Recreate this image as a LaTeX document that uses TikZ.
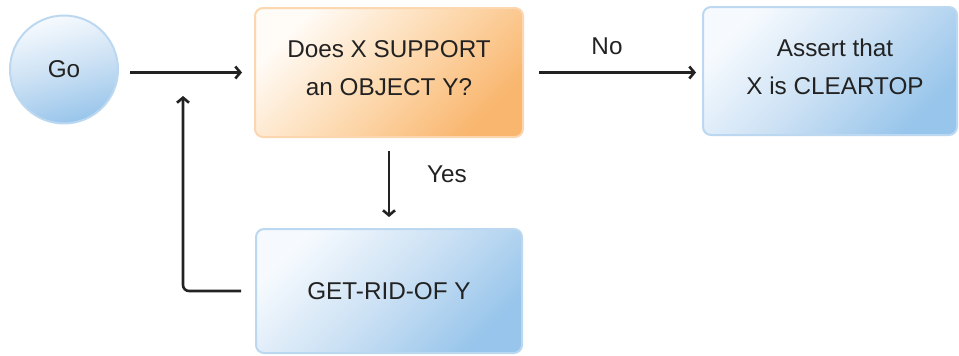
\documentclass[tikz,border=0pt]{standalone}
\usepackage{fontspec}
\setmainfont{Liberation Sans}
\usetikzlibrary{arrows.meta}
\definecolor{bluelight}{HTML}{F6FAFE}
\definecolor{bluemid}{HTML}{CCE1F4}
\definecolor{bluedark}{HTML}{98C5EB}
\definecolor{blueedge}{HTML}{BCD8F1}
\definecolor{orangelight}{HTML}{FFFBF6}
\definecolor{orangemid}{HTML}{FDDAB1}
\definecolor{orangedark}{HTML}{F9B66E}
\definecolor{orangeedge}{HTML}{FCD6AE}
\definecolor{ink}{HTML}{222222}
\tikzset{
  txt/.style={font=\fontsize{24.3}{38}\selectfont, text=ink, align=center},
  bluebox/.style={txt, rectangle, rounded corners=8pt, draw=blueedge, line width=2pt,
    top color=bluelight, bottom color=bluedark, middle color=bluemid, shading angle=45},
  orangebox/.style={txt, rectangle, rounded corners=8pt, draw=orangeedge, line width=2pt,
    top color=orangelight, bottom color=orangedark, middle color=orangemid, shading angle=45},
  startnode/.style={txt, circle, draw=blueedge, line width=2pt,
    top color=bluelight, bottom color=bluedark, middle color=bluemid, shading angle=15,
    minimum size=108pt, inner sep=0pt},
  arr/.style={draw=ink, line width=2.6pt, -{Straight Barb[length=5pt,width=12pt,line width=2.6pt]}},
  lbl/.style={txt}
}
\begin{document}
\begin{tikzpicture}[x=1pt,y=-1pt]
\useasboundingbox (0,0) rectangle (959,356);

% nodes
\node[startnode] (go) at (64,69.5) {Go};
\node[orangebox, minimum width=268pt, minimum height=129pt, text depth=8pt] (q) at (389,72.5)
  {Does X SUPPORT\\an OBJECT Y?};
\node[bluebox, minimum width=254pt, minimum height=128pt, text depth=8pt] (a) at (830,71)
  {\hspace*{10pt}Assert that\\\hspace*{10pt}X is CLEARTOP};
\node[bluebox, minimum width=266pt, minimum height=124pt] (g) at (389,291)
  {GET-RID-OF Y};

% labels
\node[lbl] (no) at (607,46) {No};
\node[lbl] (yes) at (447,174) {Yes};

% connectors
\coordinate (fb) at (183,96);
\draw[arr] ([xshift=11pt]go.east |- q.west) -- ([xshift=-12pt]q.west);
\draw[arr] ([xshift=15pt]q.east) -- ([xshift=-6pt]a.west |- q.east);
\draw[arr] ([yshift=-13pt]q.south) -- ([yshift=11pt]g.north);
\draw[arr, rounded corners=6pt] ([xshift=-14pt]g.west) -| (fb);
\end{tikzpicture}
\end{document}
